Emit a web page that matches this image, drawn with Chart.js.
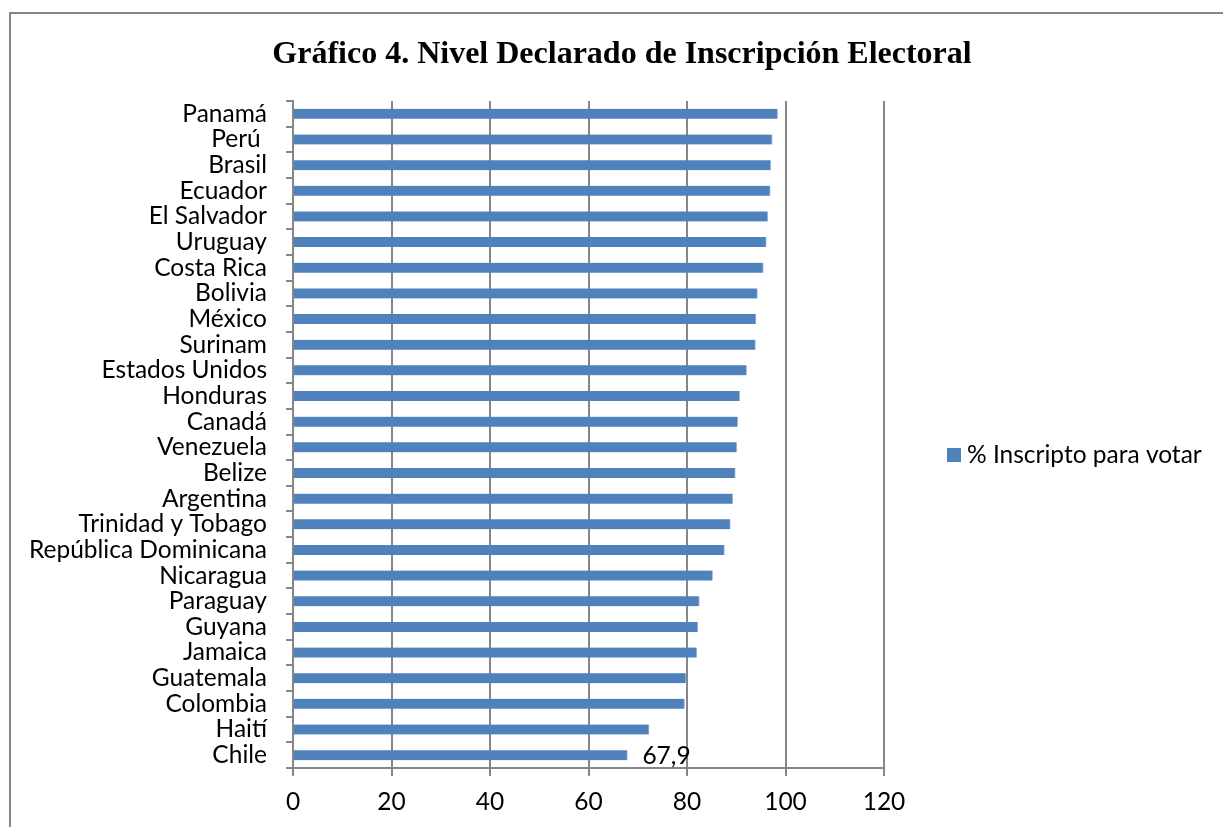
<!DOCTYPE html>
<html>
<head>
<meta charset="utf-8">
<script src="https://cdn.jsdelivr.net/npm/chart.js@4"></script>
<style>
  html, body { margin: 0; padding: 0; background: #fff; }
  #wrap { width: 1223px; height: 827px; }
</style>
</head>
<body>
<div id="wrap"><canvas id="chart" width="1223" height="827"></canvas></div>
<script>
// ── Data ────────────────────────────────────────────
const categories = [
  'Panamá', 'Perú ', 'Brasil', 'Ecuador', 'El Salvador', 'Uruguay', 'Costa Rica',
  'Bolivia', 'México', 'Surinam', 'Estados Unidos', 'Honduras', 'Canadá',
  'Venezuela', 'Belize', 'Argentina', 'Trinidad y Tobago', 'República Dominicana',
  'Nicaragua', 'Paraguay', 'Guyana', 'Jamaica', 'Guatemala', 'Colombia', 'Haití', 'Chile',
];
const inscriptos = [
  98.4, 97.3, 97.0, 96.9, 96.4, 96.1, 95.5,
  94.3, 94.0, 93.9, 92.1, 90.7, 90.3,
  90.1, 89.8, 89.3, 88.8, 87.6,
  85.2, 82.5, 82.2, 82.0, 79.8, 79.5, 72.3, 67.9,
];
const xTicks = [0, 20, 40, 60, 80, 100, 120];
const seriesLabel = '% Inscripto para votar';
const titleText = 'Gráfico 4. Nivel Declarado de Inscripción Electoral';
const pointLabels = { 'Chile': '67,9' };

// ── Styles ──────────────────────────────────────────
const BAR_COLOR = '#4f81bd';
const GRID_COLOR = '#868686';
const FONT = "Lato, 'Open Sans', sans-serif";
const FONT_SIZE = 24.5;

// title, frame, legend and the single data label
const decorations = {
  id: 'decorations',
  beforeDraw(chart) {
    const { ctx } = chart;
    ctx.save();
    ctx.strokeStyle = GRID_COLOR;
    ctx.lineWidth = 2;
    ctx.beginPath();
    ctx.moveTo(10, 830);
    ctx.lineTo(10, 13);
    ctx.lineTo(1230, 13);
    ctx.stroke();
    ctx.restore();
  },
  afterDraw(chart) {
    const { ctx } = chart;
    ctx.save();
    ctx.fillStyle = '#000';
    ctx.font = "bold 32px 'Liberation Serif', 'Times New Roman', serif";
    ctx.textAlign = 'center';
    ctx.textBaseline = 'alphabetic';
    ctx.fillText(titleText, 622, 63);

    // legend
    ctx.fillStyle = BAR_COLOR;
    ctx.fillRect(947, 448, 14, 14);
    ctx.fillStyle = '#000';
    ctx.font = `${FONT_SIZE}px ${FONT}`;
    ctx.textAlign = 'left';
    ctx.textBaseline = 'middle';
    ctx.fillText(seriesLabel, 967, 455);

    // data label(s)
    const meta = chart.getDatasetMeta(0);
    categories.forEach((c, i) => {
      if (!pointLabels[c]) return;
      const bar = meta.data[i];
      ctx.fillText(pointLabels[c], bar.x + 15, bar.y + 1);
    });
    ctx.restore();
  },
};

new Chart(document.getElementById('chart'), {
  type: 'bar',
  data: {
    labels: categories,
    datasets: [{
      label: seriesLabel,
      data: inscriptos,
      backgroundColor: BAR_COLOR,
      borderColor: '#9fb9dc',
      borderWidth: { top: 0, bottom: 0, left: 0, right: 1 },
      borderSkipped: 'start',
      barThickness: 10,
    }],
  },
  options: {
    indexAxis: 'y',
    responsive: false,
    animation: false,
    layout: { padding: { top: 101, right: 339, left: 0, bottom: 0 } },
    plugins: {
      legend: { display: false },
      title: { display: false },
      tooltip: { enabled: false },
    },
    scales: {
      x: {
        min: 0,
        max: 120,
        afterBuildTicks: (scale) => { scale.ticks = xTicks.map(v => ({ value: v })); },
        afterFit: (scale) => { scale.height = 59; },
        grid: { color: GRID_COLOR, lineWidth: 2, tickLength: 8, drawTicks: true },
        border: { display: true, color: GRID_COLOR, width: 2 },
        ticks: { color: '#000', font: { family: FONT, size: FONT_SIZE }, padding: 11, maxRotation: 0 },
      },
      y: {
        afterFit: (scale) => { scale.width = 293; },
        grid: { offset: true, drawOnChartArea: false, color: GRID_COLOR, lineWidth: 2, tickLength: 7 },
        border: { display: true, color: GRID_COLOR, width: 2 },
        ticks: { color: '#000', font: { family: FONT, size: FONT_SIZE }, padding: 19, autoSkip: false },
      },
    },
  },
  plugins: [decorations],
});
</script>
</body>
</html>
